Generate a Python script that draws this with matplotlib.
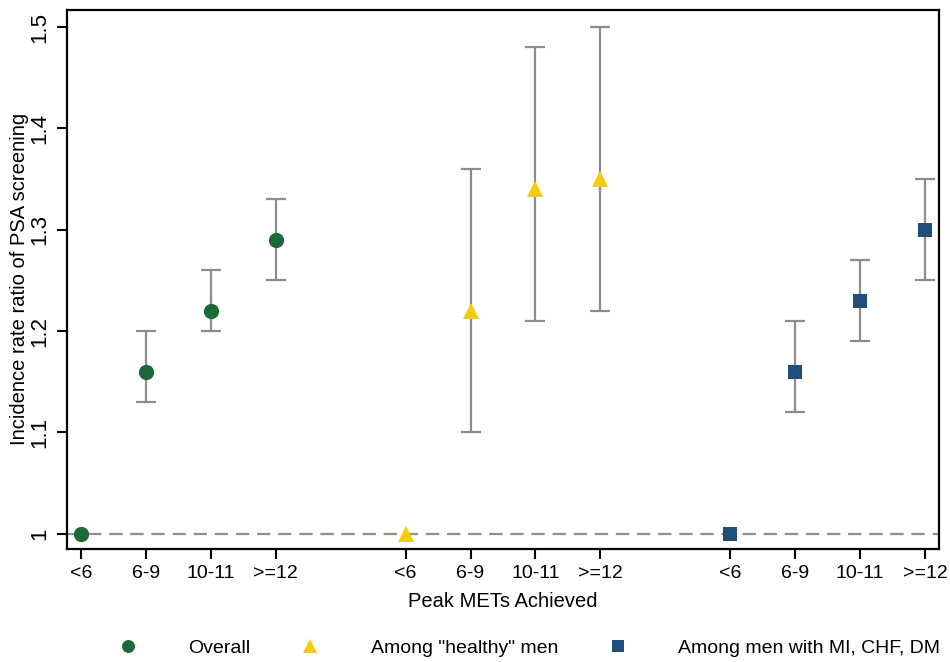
import numpy as np
import matplotlib.pyplot as plt

plt.rcParams['font.family'] = ['Liberation Sans', 'DejaVu Sans']

# categories and positions along the x axis
met_labels = ["<6", "6-9", "10-11", ">=12"]
overall_x = [1, 2, 3, 4]
healthy_x = [6, 7, 8, 9]
disease_x = [11, 12, 13, 14]

# incidence rate ratios and 95% CI
overall_irr = [1.00, 1.16, 1.22, 1.29]
overall_lo = [1.00, 1.13, 1.20, 1.25]
overall_hi = [1.00, 1.20, 1.26, 1.33]

healthy_irr = [1.00, 1.22, 1.34, 1.35]
healthy_lo = [1.00, 1.10, 1.21, 1.22]
healthy_hi = [1.00, 1.36, 1.48, 1.50]

disease_irr = [1.00, 1.16, 1.23, 1.30]
disease_lo = [1.00, 1.12, 1.19, 1.25]
disease_hi = [1.00, 1.21, 1.27, 1.35]

groups = [
    ("Overall", overall_x, overall_irr, overall_lo, overall_hi, 'o', '#1d6a39', 11),
    ('Among "healthy" men', healthy_x, healthy_irr, healthy_lo, healthy_hi, '^', '#f6cc0a', 12),
    ("Among men with MI, CHF, DM", disease_x, disease_irr, disease_lo, disease_hi, 's', '#1f4e78', 10),
]

fig = plt.figure(figsize=(9.5, 6.62), dpi=100)
ax = fig.add_axes([0.0705, 0.171, 0.918, 0.814])

ax.axhline(1.0, color='#8f8f8f', linestyle=(0, (6, 3.5)), linewidth=1.6, zorder=1)

handles = []
for name, xs, irr, lo, hi, mk, col, ms in groups:
    xs = np.array(xs)
    irr = np.array(irr)
    err = [irr - np.array(lo), np.array(hi) - irr]
    has_ci = (err[1] > 0)
    ax.errorbar(xs[has_ci], irr[has_ci], yerr=[err[0][has_ci], err[1][has_ci]],
                fmt='none', ecolor='#8c8c8c', elinewidth=1.6, capsize=7, capthick=1.6, zorder=2)
    h, = ax.plot(xs, irr, linestyle='none', marker=mk, markersize=ms,
                 color=col, markeredgewidth=0, zorder=3, label=name)
    handles.append(h)

ax.set_xlim(0.785, 14.215)
ax.set_ylim(0.985, 1.517)
ax.set_xticks(overall_x + healthy_x + disease_x)
ax.set_xticklabels(met_labels * 3)
ax.set_yticks([1.0, 1.1, 1.2, 1.3, 1.4, 1.5])
ax.set_yticklabels(["1", "1.1", "1.2", "1.3", "1.4", "1.5"], rotation=90, va='center')
ax.tick_params(axis='both', direction='out', length=7, width=1.5, color='black')
ax.tick_params(axis='x', labelsize=14, pad=5)
ax.tick_params(axis='y', labelsize=16, pad=5)
for s in ax.spines.values():
    s.set_linewidth(1.6)

ax.set_xlabel("Peak METs Achieved", fontsize=14.5, labelpad=7)
ax.set_ylabel("Incidence rate ratio of PSA screening", fontsize=14.5)
ax.yaxis.set_label_coords(-0.043, 0.5)

fig.legend(handles=handles, loc='center', bbox_to_anchor=(0.557, 0.021),
           ncol=3, frameon=False, fontsize=14, handlelength=1.0,
           handletextpad=2.6, columnspacing=2.6, markerscale=0.85)

plt.savefig('out.png', dpi=100)
